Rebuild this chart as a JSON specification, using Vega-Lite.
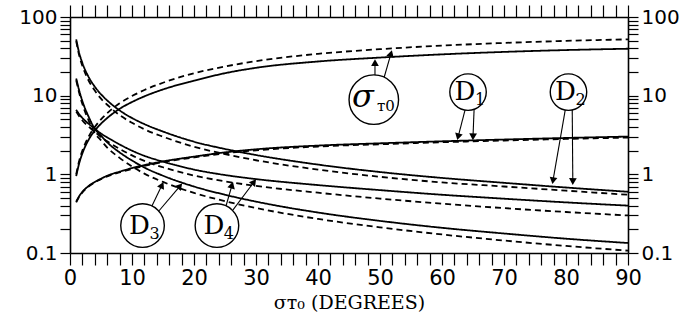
{
  "$schema": "https://vega.github.io/schema/vega-lite/v6.json",
  "width": 558,
  "height": 236,
  "autosize": {"type": "none"},
  "padding": {"left": 70, "top": 17, "right": 72, "bottom": 68},
  "background": "white",
  "config": {
    "view": {"stroke": null},
    "axis": {"grid": false, "domainColor": "black", "domainWidth": 1.6, "tickColor": "black", "tickWidth": 1.2, "labelColor": "black", "labelFont": "DejaVu Sans", "labelFontSize": 20, "titleColor": "black"}
  },
  "datasets": {
    "curves": [
      {"x": 1, "sig": 0.95, "sigd": 1.0, "d1": 0.45, "d1d": 0.44, "d2": 52, "d2d": 49.4, "d3": 16.5, "d3d": 15.7, "d4": 6.6, "d4d": 6.27},
      {"x": 1.5, "sig": 1.4, "sigd": 1.5, "d1": 0.53, "d1d": 0.52, "d2": 34.5, "d2d": 32.1, "d3": 11.5, "d3d": 10.7, "d4": 5.8, "d4d": 5.45},
      {"x": 2, "sig": 1.85, "sigd": 2.0, "d1": 0.6, "d1d": 0.59, "d2": 26, "d2d": 23.9, "d3": 8.5, "d3d": 7.82, "d4": 5.2, "d4d": 4.84},
      {"x": 3, "sig": 2.75, "sigd": 3.0, "d1": 0.71, "d1d": 0.7, "d2": 17.3, "d2d": 15.6, "d3": 5.4, "d3d": 4.86, "d4": 4.4, "d4d": 4.05},
      {"x": 4, "sig": 3.6, "sigd": 4.0, "d1": 0.8, "d1d": 0.79, "d2": 13, "d2d": 11.6, "d3": 3.8, "d3d": 3.34, "d4": 3.8, "d4d": 3.46},
      {"x": 5, "sig": 4.4, "sigd": 5.0, "d1": 0.88, "d1d": 0.87, "d2": 10.4, "d2d": 9.15, "d3": 3.1, "d3d": 2.7, "d4": 3.3, "d4d": 2.97},
      {"x": 6, "sig": 5.2, "sigd": 6.0, "d1": 0.96, "d1d": 0.94, "d2": 8.7, "d2d": 7.66, "d3": 2.55, "d3d": 2.19, "d4": 2.95, "d4d": 2.63},
      {"x": 8, "sig": 6.8, "sigd": 8.0, "d1": 1.08, "d1d": 1.06, "d2": 6.5, "d2d": 5.66, "d3": 1.9, "d3d": 1.62, "d4": 2.4, "d4d": 2.11},
      {"x": 10, "sig": 8.3, "sigd": 9.9, "d1": 1.2, "d1d": 1.17, "d2": 5.2, "d2d": 4.52, "d3": 1.5, "d3d": 1.26, "d4": 2.0, "d4d": 1.74},
      {"x": 12, "sig": 9.8, "sigd": 11.8, "d1": 1.31, "d1d": 1.28, "d2": 4.35, "d2d": 3.74, "d3": 1.22, "d3d": 1.02, "d4": 1.72, "d4d": 1.48},
      {"x": 15, "sig": 12, "sigd": 14.6, "d1": 1.46, "d1d": 1.43, "d2": 3.5, "d2d": 3.01, "d3": 0.96, "d3d": 0.8, "d4": 1.45, "d4d": 1.23},
      {"x": 20, "sig": 15.5, "sigd": 19.3, "d1": 1.68, "d1d": 1.64, "d2": 2.6, "d2d": 2.24, "d3": 0.7, "d3d": 0.58, "d4": 1.15, "d4d": 0.966},
      {"x": 25, "sig": 19.3, "sigd": 23.5, "d1": 1.9, "d1d": 1.85, "d2": 2.1, "d2d": 1.81, "d3": 0.55, "d3d": 0.456, "d4": 0.98, "d4d": 0.813},
      {"x": 30, "sig": 22.6, "sigd": 27.5, "d1": 2.08, "d1d": 2.02, "d2": 1.76, "d2d": 1.51, "d3": 0.45, "d3d": 0.373, "d4": 0.87, "d4d": 0.713},
      {"x": 40, "sig": 27.2, "sigd": 34, "d1": 2.32, "d1d": 2.26, "d2": 1.33, "d2d": 1.15, "d3": 0.327, "d3d": 0.271, "d4": 0.73, "d4d": 0.584},
      {"x": 50, "sig": 30.5, "sigd": 39, "d1": 2.48, "d1d": 2.41, "d2": 1.07, "d2d": 0.93, "d3": 0.256, "d3d": 0.212, "d4": 0.63, "d4d": 0.491},
      {"x": 60, "sig": 33.5, "sigd": 43.3, "d1": 2.63, "d1d": 2.56, "d2": 0.9, "d2d": 0.79, "d3": 0.209, "d3d": 0.172, "d4": 0.55, "d4d": 0.424},
      {"x": 70, "sig": 36, "sigd": 46.8, "d1": 2.77, "d1d": 2.69, "d2": 0.78, "d2d": 0.7, "d3": 0.177, "d3d": 0.144, "d4": 0.49, "d4d": 0.372},
      {"x": 80, "sig": 38, "sigd": 49.7, "d1": 2.9, "d1d": 2.82, "d2": 0.68, "d2d": 0.62, "d3": 0.152, "d3d": 0.123, "d4": 0.44, "d4d": 0.332},
      {"x": 90, "sig": 39.5, "sigd": 52, "d1": 3.02, "d1d": 2.93, "d2": 0.6, "d2d": 0.55, "d3": 0.134, "d3d": 0.107, "d4": 0.4, "d4d": 0.3}
    ],
    "arrows": [
      {"x": 49.19, "v": 16.9, "x2": 49.19, "v2": 26.3, "angle": 0},
      {"x": 50.65, "v": 16.9, "x2": 51.77, "v2": 34.3, "angle": 16},
      {"x": 63.9, "v": 7.46, "x2": 62.6, "v2": 3.0, "angle": 194},
      {"x": 65.2, "v": 7.46, "x2": 65.0, "v2": 3.0, "angle": 182},
      {"x": 80.0, "v": 7.46, "x2": 77.9, "v2": 0.83, "angle": 190},
      {"x": 81.0, "v": 7.46, "x2": 81.1, "v2": 0.81, "angle": 181},
      {"x": 13.06, "v": 0.374, "x2": 14.84, "v2": 0.73, "angle": 26},
      {"x": 14.19, "v": 0.332, "x2": 17.74, "v2": 0.71, "angle": 40},
      {"x": 25.16, "v": 0.396, "x2": 26.13, "v2": 0.73, "angle": 16},
      {"x": 26.29, "v": 0.354, "x2": 29.68, "v2": 0.8, "angle": 37}
    ],
    "labels": [
      {"x": 49.0, "v": 8.9, "lab": "σ", "sub": "ᴛ0", "kind": "sigma"},
      {"x": 64.2, "v": 11.1, "lab": "D", "sub": "1", "kind": "top"},
      {"x": 80.4, "v": 11.1, "lab": "D", "sub": "2", "kind": "top"},
      {"x": 11.7, "v": 0.223, "lab": "D", "sub": "3", "kind": "bottom"},
      {"x": 23.7, "v": 0.223, "lab": "D", "sub": "4", "kind": "bottom"}
    ]
  },
  "layer": [
    {
      "encoding": {
        "x": {"field": "x", "type": "quantitative", "scale": {"domain": [0, 90], "nice": false, "zero": false},
          "axis": {"orient": "bottom", "values": [0,2,4,6,8,10,12,14,16,18,20,22,24,26,28,30,32,34,36,38,40,42,44,46,48,50,52,54,56,58,60,62,64,66,68,70,72,74,76,78,80,82,84,86,88,90],
            "labelExpr": "datum.value % 10 === 0 ? format(datum.value, 'd') : ''",
            "tickSize": 12,
            "encode": {"ticks": {"update": {"y2": {"signal": "datum.value % 10 === 0 ? 12 : 7"}}}},
            "labelPadding": 2, "labelFontSize": 21, "labelFlush": false,
            "title": "σᴛ₀ (DEGREES)", "titleFont": "DejaVu Serif", "titleFontSize": 19, "titleFontWeight": "normal", "titlePadding": 5}},
        "y": {"field": "v", "type": "quantitative", "scale": {"type": "log", "domain": [0.1, 100], "nice": false},
          "axis": {"orient": "left", "values": [0.1,0.2,0.3,0.4,0.5,0.6,0.7,0.8,0.9,1,2,3,4,5,6,7,8,9,10,20,30,40,50,60,70,80,90,100],
            "labelExpr": "abs(log(datum.value)/LN10 - round(log(datum.value)/LN10)) < 0.001 ? format(datum.value, '~g') : ''",
            "tickSize": 10,
            "encode": {"ticks": {"update": {"x2": {"signal": "abs(log(datum.value)/LN10 - round(log(datum.value)/LN10)) < 0.001 ? -10 : -7"}}}},
            "labelPadding": 3, "labelFlush": false, "title": null}}
      },
      "layer": [
        {
          "data": {"name": "curves"},
          "transform": [{"fold": ["sig", "sigd", "d1", "d1d", "d2", "d2d", "d3", "d3d", "d4", "d4d"], "as": ["k", "v"]}],
          "mark": {"type": "line", "color": "black", "strokeWidth": 1.8, "interpolate": "monotone"},
          "encoding": {
            "detail": {"field": "k", "type": "nominal"},
            "strokeDash": {"field": "k", "type": "nominal", "legend": null,
              "scale": {"domain": ["sig", "sigd", "d1", "d1d", "d2", "d2d", "d3", "d3d", "d4", "d4d"],
                "range": [[1, 0], [6, 4], [1, 0], [6, 4], [1, 0], [6, 4], [1, 0], [6, 4], [1, 0], [6, 4]]}}
          }
        },
        {
          "data": {"name": "arrows"},
          "mark": {"type": "rule", "color": "black", "strokeWidth": 1.1},
          "encoding": {"x2": {"field": "x2"}, "y2": {"field": "v2"}}
        },
        {
          "data": {"name": "arrows"},
          "mark": {"type": "point", "shape": "triangle-up", "filled": true, "color": "black", "size": 60, "opacity": 1},
          "encoding": {"x": {"field": "x2", "type": "quantitative"}, "y": {"field": "v2", "type": "quantitative"}, "angle": {"field": "angle", "type": "quantitative", "scale": null}}
        },
        {
          "data": {"name": "labels"},
          "mark": {"type": "point", "shape": "circle", "filled": false, "fill": "white", "fillOpacity": 1, "stroke": "black", "strokeWidth": 1.4, "opacity": 1},
          "encoding": {"size": {"condition": [{"test": "datum.kind === 'sigma'", "value": 2450}, {"test": "datum.kind === 'bottom'", "value": 1900}], "value": 1330}}
        },
        {
          "data": {"name": "labels"},
          "transform": [{"filter": "datum.kind !== 'sigma'"}],
          "mark": {"type": "text", "font": "DejaVu Serif", "fontSize": 26, "dx": -3, "dy": 0, "color": "black", "baseline": "middle", "align": "center"},
          "encoding": {"text": {"field": "lab"}}
        },
        {
          "data": {"name": "labels"},
          "transform": [{"filter": "datum.kind !== 'sigma'"}],
          "mark": {"type": "text", "font": "DejaVu Serif", "fontSize": 16, "dx": 12, "dy": 8, "color": "black", "baseline": "middle", "align": "center"},
          "encoding": {"text": {"field": "sub"}}
        },
        {
          "data": {"name": "labels"},
          "transform": [{"filter": "datum.kind === 'sigma'"}],
          "mark": {"type": "text", "font": "DejaVu Serif", "fontSize": 32, "fontStyle": "italic", "dx": -11, "dy": -3, "color": "black", "baseline": "middle", "align": "center"},
          "encoding": {"text": {"field": "lab"}}
        },
        {
          "data": {"name": "labels"},
          "transform": [{"filter": "datum.kind === 'sigma'"}],
          "mark": {"type": "text", "font": "DejaVu Serif", "fontSize": 15, "dx": 12, "dy": 6, "color": "black", "baseline": "middle", "align": "center"},
          "encoding": {"text": {"field": "sub"}}
        }
      ]
    },
    {
      "data": {"values": [{"x": 0, "v": 1}]},
      "mark": {"type": "point", "opacity": 0},
      "encoding": {
        "x": {"field": "x", "type": "quantitative", "scale": {"domain": [0, 90], "nice": false, "zero": false},
          "axis": {"orient": "top", "values": [0,2,4,6,8,10,12,14,16,18,20,22,24,26,28,30,32,34,36,38,40,42,44,46,48,50,52,54,56,58,60,62,64,66,68,70,72,74,76,78,80,82,84,86,88,90],
            "labels": false, "title": null, "tickSize": 12,
            "encode": {"ticks": {"update": {"y2": {"signal": "datum.value % 10 === 0 ? 12 : 6"}}}}}},
        "y": {"field": "v", "type": "quantitative", "scale": {"type": "log", "domain": [0.1, 100], "nice": false},
          "axis": {"orient": "right", "values": [0.1,0.2,0.3,0.4,0.5,0.6,0.7,0.8,0.9,1,2,3,4,5,6,7,8,9,10,20,30,40,50,60,70,80,90,100],
            "labelExpr": "abs(log(datum.value)/LN10 - round(log(datum.value)/LN10)) < 0.001 ? format(datum.value, '~g') : ''",
            "tickSize": 10,
            "encode": {"ticks": {"update": {"x2": {"signal": "abs(log(datum.value)/LN10 - round(log(datum.value)/LN10)) < 0.001 ? 10 : 7"}}}},
            "labelPadding": 3, "labelFlush": false, "title": null}}
      }
    }
  ],
  "resolve": {"scale": {"x": "independent", "y": "independent"}}
}
